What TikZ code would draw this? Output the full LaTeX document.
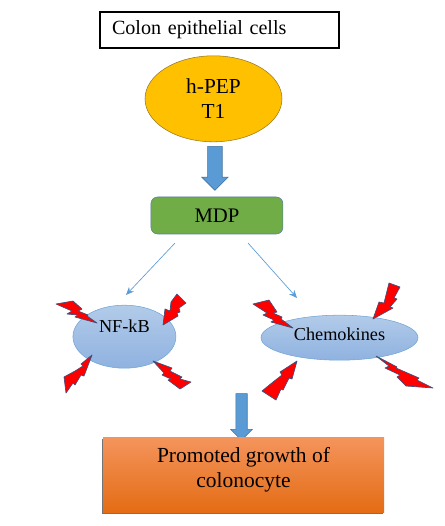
\documentclass[tikz,border=0pt]{standalone}
\usepackage{fontspec}
\setmainfont{Liberation Serif}
\usepackage{tikz}
\usetikzlibrary{arrows.meta,positioning,shapes.geometric,shapes.arrows,shadows}
\definecolor{arrowblue}{RGB}{91,155,213}
\definecolor{arrowedge}{RGB}{65,113,156}
\definecolor{peporange}{RGB}{255,192,0}
\definecolor{pepedge}{RGB}{150,120,40}
\definecolor{mdpgreen}{RGB}{112,173,71}
\definecolor{mdpedge}{RGB}{85,125,165}
\definecolor{cellhigh}{RGB}{178,203,233}
\definecolor{celllow}{RGB}{143,178,224}
\definecolor{celledge}{RGB}{110,165,215}
\definecolor{growthhigh}{RGB}{244,148,92}
\definecolor{growthlow}{RGB}{228,108,20}
\definecolor{zapedge}{RGB}{60,80,125}
\tikzstyle{labelbox}=[rectangle,draw=black,line width=0.8pt,minimum height=27pt,text width=161.25pt,
                  inner xsep=9pt,inner ysep=0pt,align=left,font=\fontsize{15.1}{19}\selectfont]
\tikzstyle{pepcell}=[ellipse,draw=pepedge,fill=peporange,minimum width=102.75pt,minimum height=64.5pt,
                  inner sep=0pt,align=center,font=\fontsize{16}{19}\selectfont]
\tikzstyle{mdpbox}=[rectangle,rounded corners=5pt,draw=mdpedge,fill=mdpgreen,minimum width=99pt,
                  minimum height=27.75pt,inner sep=0pt,font=\fontsize{15.5}{19}\selectfont]
\tikzstyle{target}=[ellipse,draw=celledge,top color=cellhigh,bottom color=celllow,inner sep=0pt,
                  font=\fontsize{13.7}{17}\selectfont]
\tikzstyle{growthbox}=[rectangle,top color=growthhigh,bottom color=growthlow,minimum width=210.75pt,
                  minimum height=56pt,inner sep=0pt,align=center,font=\fontsize{16.1}{18.75}\selectfont,
                  general shadow={fill=black!55,shadow xshift=-0.5pt,shadow yshift=-1.2pt}]
\tikzstyle{blockarrow}=[single arrow,rotate=-90,draw=arrowedge,fill=arrowblue,inner xsep=0pt,
                  single arrow tip angle=90]
\tikzstyle{arrow}=[-{Stealth[length=6pt,width=5pt]},draw=arrowblue,line width=0.5pt]
\tikzstyle{zap}=[draw=zapedge,fill=red,line width=0.5pt,line join=round]
\begin{document}
\begin{tikzpicture}[x=0.75pt,y=-0.75pt]
      \useasboundingbox (0,0) rectangle (445,526);
      \node[labelbox] (title) at (219.5,30) {Colon epithelial cells};
      \node[pepcell,below=5.25pt of title,xshift=-4.5pt] (pep) {h-PEP\\T1};
      \node[blockarrow,inner ysep=5.25pt,single arrow head extend=4.5pt,minimum height=33pt,
            below=3pt of pep,yshift=1.1pt,anchor=west] (arr1) {};
      \node[mdpbox,below=4.5pt of arr1.tip,xshift=1.5pt] (mdp) {MDP};
      \node[target,minimum width=77.25pt,minimum height=47.25pt,text depth=16pt,
            below=53pt of mdp,xshift=-69.4pt] (nfkb) {NF-kB};
      \node[target,minimum width=117.75pt,minimum height=33.75pt,text depth=6pt,
            below=60.5pt of mdp,xshift=91.9pt] (chemo) {Chemokines};
      \node[blockarrow,inner ysep=4.1pt,single arrow head extend=3.75pt,minimum height=35pt,
            below=119.25pt of mdp,yshift=18.4pt,anchor=west] (arr2) {};
      \node[growthbox,text depth=11pt,below=-2.4pt of arr2.tip,xshift=1.5pt] (growth) {Promoted growth of\\colonocyte};
      % thin arrows stop short of the nodes
      \coordinate (mdpl) at (175,243);
      \coordinate (mdpr) at (248,243);
      \coordinate (nfin) at (126,295);
      \coordinate (chin) at (297,298);
      \draw[arrow] (mdpl)--(nfin);
      \draw[arrow] (mdpr)--(chin);
      % bolts round NF-kB
      \filldraw[zap] (97,323)--(87,316)--(88,315)--(78,311)--(82,309)--(73,301)--(56,304)--(72,311)--(67,314)--(78,315)--(75,317)--cycle;
      \filldraw[zap] (163,325)--(165,309)--(170,311)--(171,302)--(177,294)--(186,303)--(179,308)--(180,312)--(177,313)--(178,316)--cycle;
      \filldraw[zap] (153,361)--(172,368)--(170,371)--(182,377)--(180,379)--(191,382)--(180,389)--(168,380)--(171,379)--(162,375)--(164,373)--cycle;
      \filldraw[zap] (92,355)--(81,364)--(83,366)--(75,371)--(64,377)--(66,393)--(73,383)--(75,385)--(81,375)--(84,376)--cycle;
      % bolts round Chemokines
      \filldraw[zap] (293,328)--(281,319)--(282,317)--(273,313)--(277,312)--(269,300)--(253,304)--(267,313)--(263,315)--(274,320)--(271,322)--cycle;
      \filldraw[zap] (373,319)--(379,302)--(384,303)--(389,283)--(400,287)--(394,298)--(397,299)--(390,307)--(393,308)--cycle;
      \filldraw[zap] (376,356)--(397,367)--(396,368)--(419,378)--(417,380)--(433,388)--(406,386)--(397,377)--(400,375)--(385,368)--(389,366)--cycle;
      \filldraw[zap] (297,361)--(280,372)--(282,375)--(273,382)--(262,391)--(276,400)--(281,389)--(283,390)--(289,378)--(292,379)--cycle;
    \end{tikzpicture}
\end{document}
